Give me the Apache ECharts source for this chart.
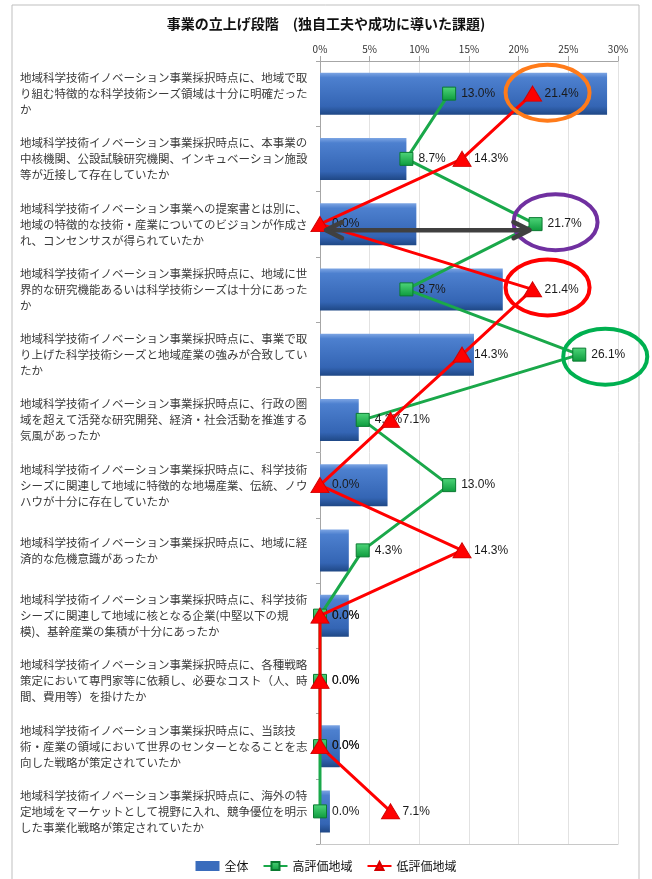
<!DOCTYPE html>
<html>
<head>
<meta charset="utf-8">
<script src="https://cdn.jsdelivr.net/npm/echarts@6/dist/echarts.min.js"></script>
<style>
  html, body { margin: 0; padding: 0; background: #fff; }
  #chart { width: 652px; height: 879px; }
</style>
</head>
<body>
<div id="chart"></div>
<script>
// Question items (top to bottom)
var categories = [
  '地域科学技術イノベーション事業採択時点に、地域で取\nり組む特徴的な科学技術シーズ領域は十分に明確だった\nか',
  '地域科学技術イノベーション事業採択時点に、本事業の\n中核機関、公設試験研究機関、インキュベーション施設\n等が近接して存在していたか',
  '地域科学技術イノベーション事業への提案書とは別に、\n地域の特徴的な技術・産業についてのビジョンが作成さ\nれ、コンセンサスが得られていたか',
  '地域科学技術イノベーション事業採択時点に、地域に世\n界的な研究機能あるいは科学技術シーズは十分にあった\nか',
  '地域科学技術イノベーション事業採択時点に、事業で取\nり上げた科学技術シーズと地域産業の強みが合致してい\nたか',
  '地域科学技術イノベーション事業採択時点に、行政の圏\n域を超えて活発な研究開発、経済・社会活動を推進する\n気風があったか',
  '地域科学技術イノベーション事業採択時点に、科学技術\nシーズに関連して地域に特徴的な地場産業、伝統、ノウ\nハウが十分に存在していたか',
  '地域科学技術イノベーション事業採択時点に、地域に経\n済的な危機意識があったか',
  '地域科学技術イノベーション事業採択時点に、科学技術\nシーズに関連して地域に核となる企業(中堅以下の規\n模)、基幹産業の集積が十分にあったか',
  '地域科学技術イノベーション事業採択時点に、各種戦略\n策定において専門家等に依頼し、必要なコスト（人、時\n間、費用等）を掛けたか',
  '地域科学技術イノベーション事業採択時点に、当該技\n術・産業の領域において世界のセンターとなることを志\n向した戦略が策定されていたか',
  '地域科学技術イノベーション事業採択時点に、海外の特\n定地域をマーケットとして視野に入れ、競争優位を明示\nした事業化戦略が策定されていたか'
];

// Percentages
var overall = [28.9, 8.7, 9.7, 18.4, 15.5, 3.9, 6.8, 2.9, 2.9, 0.0, 2.0, 1.0];
var highRated = [13.0, 8.7, 21.7, 8.7, 26.1, 4.3, 13.0, 4.3, 0.0, 0.0, 0.0, 0.0];
var lowRated = [21.4, 14.3, 0.0, 21.4, 14.3, 7.1, 0.0, 14.3, 0.0, 0.0, 0.0, 7.1];

// Axis ticks
var axisMax = 30;
var axisStep = 5;

var seriesNames = ['全体', '高評価地域', '低評価地域'];

var chart = echarts.init(document.getElementById('chart'));

function valueLabel(distance) {
  return {
    show: true,
    position: 'right',
    distance: distance,
    color: '#1a1a1a',
    fontSize: 12,
    fontFamily: 'Liberation Sans, Arial, sans-serif',
    formatter: function (p) { return p.value.toFixed(1) + '%'; }
  };
}

chart.setOption({
  animation: false,
  backgroundColor: '#ffffff',
  title: {
    text: '事業の立上げ段階　(独自工夫や成功に導いた課題)',
    left: 'center',
    top: 12,
    textStyle: {
      fontFamily: 'Noto Sans CJK JP',
      fontSize: 14,
      fontWeight: 'bold',
      color: '#111'
    }
  },
  legend: {
    bottom: 2,
    left: 'center',
    itemWidth: 24,
    itemHeight: 10,
    itemGap: 14,
    textStyle: { fontFamily: 'Noto Sans CJK JP', fontSize: 12, color: '#111' },
    data: [
      { name: seriesNames[0], icon: 'rect', itemStyle: { color: '#3a6cbc' } },
      { name: seriesNames[1] },
      { name: seriesNames[2] }
    ]
  },
  grid: { left: 320, right: 34, top: 61, bottom: 35, containLabel: false },
  xAxis: [{
    type: 'value',
    position: 'top',
    min: 0,
    max: axisMax,
    interval: axisStep,
    axisLabel: {
      formatter: '{value}%',
      color: '#333',
      fontSize: 10,
      fontFamily: 'Noto Sans CJK JP',
      margin: 7
    },
    axisLine: { show: true, lineStyle: { color: '#a6a6a6' } },
    axisTick: { show: true, length: 5, lineStyle: { color: '#a6a6a6' } },
    splitLine: { show: true, lineStyle: { color: '#e2e2e2' } }
  }, {
    type: 'value',
    position: 'bottom',
    min: 0,
    max: axisMax,
    interval: axisStep,
    axisLabel: { show: false },
    axisLine: { show: true, lineStyle: { color: '#c8c8c8' } },
    axisTick: { show: false },
    splitLine: { show: false }
  }],
  yAxis: {
    type: 'category',
    inverse: true,
    data: categories,
    axisLine: { show: true, lineStyle: { color: '#a6a6a6' } },
    axisTick: { show: true, length: 4, lineStyle: { color: '#a6a6a6' } },
    axisLabel: {
      align: 'left',
      margin: 300,
      color: '#3a3a3a',
      fontSize: 11.5,
      lineHeight: 16,
      fontFamily: 'Noto Sans CJK JP'
    }
  },
  series: [{
    name: seriesNames[0],
    type: 'bar',
    data: overall,
    barWidth: 42,
    itemStyle: {
      color: new echarts.graphic.LinearGradient(0, 0, 0, 1, [
        { offset: 0, color: '#7ea6e4' },
        { offset: 0.12, color: '#4d80cf' },
        { offset: 0.8, color: '#3465b4' },
        { offset: 1, color: '#1f4886' }
      ]),
      shadowColor: 'rgba(0,0,0,0.3)',
      shadowBlur: 3,
      shadowOffsetX: 2,
      shadowOffsetY: 2
    },
    z: 2
  }, {
    name: seriesNames[1],
    type: 'line',
    data: highRated,
    symbol: 'rect',
    symbolSize: 13,
    lineStyle: { color: '#1aa84a', width: 3 },
    itemStyle: {
      color: new echarts.graphic.LinearGradient(0, 0, 0, 1, [
        { offset: 0, color: '#4fd67a' },
        { offset: 1, color: '#0c9a3c' }
      ]),
      borderColor: '#0a7a30',
      borderWidth: 1
    },
    label: valueLabel(5),
    z: 3
  }, {
    name: seriesNames[2],
    type: 'line',
    data: lowRated,
    symbol: 'triangle',
    symbolSize: [18, 15],
    lineStyle: { color: '#ff0000', width: 3 },
    itemStyle: { color: '#ff0000', borderColor: '#d00000', borderWidth: 1 },
    label: valueLabel(2.5),
    z: 4
  }]
});

// Highlight rings and the comparison arrow, placed from data coordinates
function px(value, row) {
  return chart.convertToPixel({ gridIndex: 0 }, [value, row]);
}

var ringDefs = [
  { p: px(lowRated[0], 0), dx: 15, dy: -1, color: '#ff7b1a' },
  { p: px(highRated[2], 2), dx: 20, dy: -2, color: '#7030a0' },
  { p: px(lowRated[3], 3), dx: 15, dy: -2, color: '#ff0000' },
  { p: px(highRated[4], 4), dx: 26, dy: 2, color: '#00b050' }
];

var graphics = [{
  type: 'rect',
  shape: { x: 12, y: 5, width: 627, height: 880 },
  style: { fill: 'none', stroke: '#bfbfbf', lineWidth: 1 },
  z: 0,
  silent: true
}];

ringDefs.forEach(function (r) {
  graphics.push({
    type: 'ellipse',
    shape: { cx: r.p[0] + r.dx, cy: r.p[1] + r.dy, rx: 42, ry: 28 },
    style: { fill: 'none', stroke: r.color, lineWidth: 4 },
    z: 100,
    silent: true
  });
});

var a0 = px(lowRated[2], 2);
var a1 = px(highRated[2], 2);
var ax0 = a0[0] + 6, ax1 = a1[0] - 6, ay = a0[1] + 6;
var headLen = 16, headHalf = 8;
var arrowStyle = { stroke: '#404040', lineWidth: 4.5, fill: 'none', lineJoin: 'round', lineCap: 'round' };
graphics.push({
  type: 'line',
  shape: { x1: ax0 + 2, y1: ay, x2: ax1 - 2, y2: ay },
  style: arrowStyle,
  z: 100, silent: true
});
graphics.push({
  type: 'polyline',
  shape: { points: [[ax0 + headLen, ay - headHalf], [ax0, ay], [ax0 + headLen, ay + headHalf]] },
  style: arrowStyle,
  z: 100, silent: true
});
graphics.push({
  type: 'polyline',
  shape: { points: [[ax1 - headLen, ay - headHalf], [ax1, ay], [ax1 - headLen, ay + headHalf]] },
  style: arrowStyle,
  z: 100, silent: true
});

chart.setOption({ graphic: graphics });
</script>
</body>
</html>
